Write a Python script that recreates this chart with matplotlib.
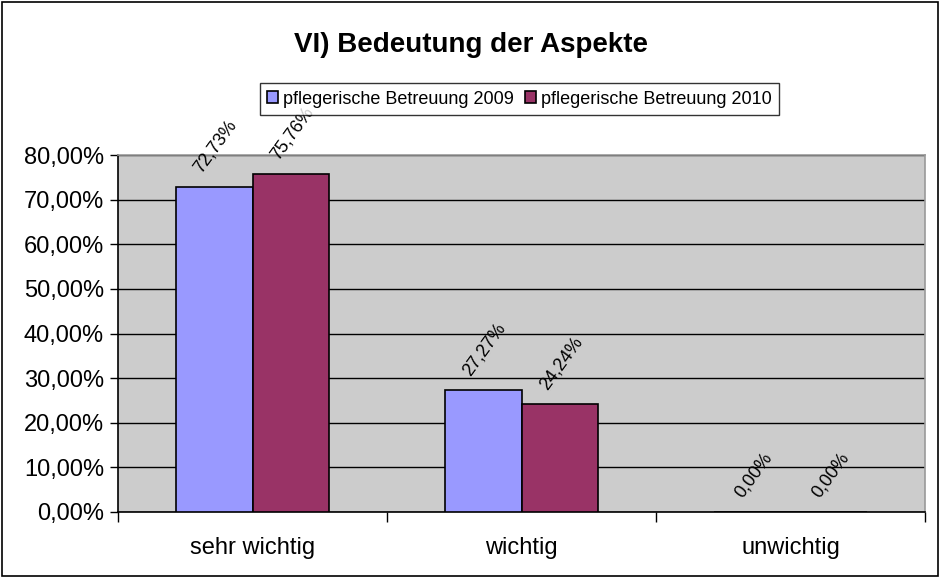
import matplotlib
matplotlib.use("Agg")
import matplotlib.pyplot as plt
import numpy as np
from matplotlib.patches import Rectangle

plt.rcParams['font.family'] = ['Liberation Sans', 'DejaVu Sans']

categories = ["sehr wichtig", "wichtig", "unwichtig"]
series_names = ["pflegerische Betreuung 2009", "pflegerische Betreuung 2010"]
values_2009 = [72.73, 27.27, 0.00]
values_2010 = [75.76, 24.24, 0.00]
colors = ["#9999FF", "#993366"]
yticks = [0, 10, 20, 30, 40, 50, 60, 70, 80]

fig = plt.figure(figsize=(9.41, 5.78), dpi=100)
ax = fig.add_axes([0.1254, 0.1142, 0.8576, 0.6176])
ax.set_facecolor("#CCCCCC")

x = np.arange(len(categories))
w = 0.286
bars = []
for i, (vals, name) in enumerate(zip([values_2009, values_2010], series_names)):
    off = (i - 0.5) * w
    b = ax.bar(x + off, vals, width=w, color=colors[i], edgecolor="black",
               linewidth=1.2, label=name, zorder=3)
    bars.append(b)
    for xi, v in zip(x + off, vals):
        ax.annotate(f"{v:.2f}%".replace(".", ","), (xi, v), xytext=(1, 8),
                    textcoords="offset points", ha="center", va="bottom",
                    rotation=54, fontsize=13, zorder=4, annotation_clip=False)

ax.set_xlim(-0.5, 2.5)
ax.set_ylim(0, 80)
ax.set_yticks(yticks)
ax.set_yticklabels([f"{t:.2f}%".replace(".", ",") for t in yticks], fontsize=17)
ax.yaxis.grid(True, color="black", linewidth=1.0, zorder=1)
ax.set_axisbelow(True)

ax.set_xticks(x)
ax.set_xticklabels(categories, fontsize=17)
ax.tick_params(axis="x", which="major", length=0, pad=18)
ax.set_xticks([-0.5, 0.5, 1.5, 2.5], minor=True)
ax.tick_params(axis="x", which="minor", length=7, width=1, color="black")
ax.tick_params(axis="y", length=6, width=1, color="black", pad=4)

ax.spines["left"].set_color("black")
ax.spines["bottom"].set_color("black")
ax.spines["top"].set_color("#999999")
ax.spines["right"].set_color("#999999")
for s in ax.spines.values():
    s.set_linewidth(1.2)

fig.text(0.5, 1 - 45 / 578, "VI) Bedeutung der Aspekte", ha="center", va="center",
         fontsize=20, fontweight="bold")

leg = fig.legend(handles=bars, labels=series_names, loc="center",
                 bbox_to_anchor=(519.5 / 941, 1 - 99 / 578), ncol=2, fontsize=13,
                 frameon=True, fancybox=False, edgecolor="black",
                 handlelength=0.6, handleheight=0.6, handletextpad=0.3,
                 columnspacing=0.6, borderpad=0.4, borderaxespad=0)
leg.get_frame().set_linewidth(1.0)

fig.patches.append(Rectangle((0.002, 0.003), 0.995, 0.994, transform=fig.transFigure,
                             fill=False, edgecolor="black", linewidth=1.2))

fig.savefig("out.png", dpi=100)
